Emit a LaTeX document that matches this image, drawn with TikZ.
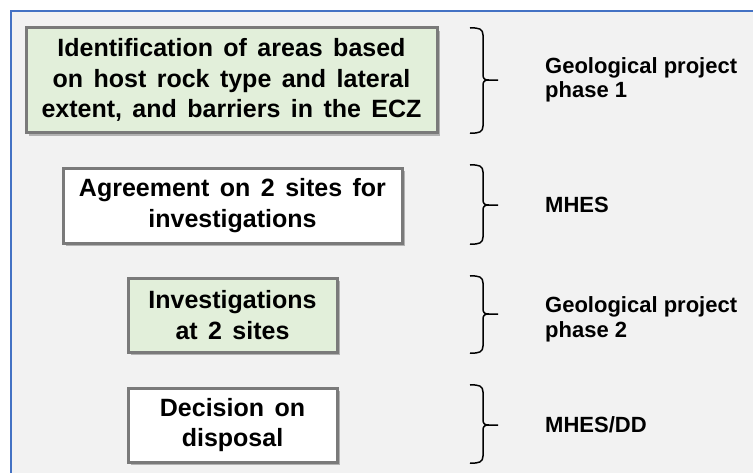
\documentclass[tikz,border=0pt]{standalone}
\usepackage{fontspec}
\setmainfont{Liberation Sans}
\newfontfamily\boxfont[WordSpace=1.5]{Liberation Sans}
\usetikzlibrary{shadows}
\definecolor{panelbg}{HTML}{F2F2F2}
\definecolor{frameblue}{HTML}{4472C4}
\definecolor{boxgreen}{HTML}{E2EFDA}
\definecolor{boxgrey}{HTML}{7A7A7A}
\tikzset{
  stepbox/.style={draw=boxgrey, line width=3pt, align=center, inner sep=0pt,
    font=\boxfont\bfseries\fontsize{25}{30.5}\selectfont,
    drop shadow={shadow xshift=3pt, shadow yshift=-3pt, opacity=0.45, fill=black!60}},
  greenbox/.style={stepbox, fill=boxgreen},
  whitebox/.style={stepbox, fill=white},
  sidelabel/.style={anchor=west, align=left, inner sep=0pt,
    font=\bfseries\fontsize{22}{24.5}\selectfont},
  bracestroke/.style={line width=1.5pt, black}
}
\newcommand{\mybrace}[3]{% top, middle, bottom
  \draw[bracestroke] (470,#1) .. controls (479,#1-0.5) and (483,#1+1) .. (483,#1+7)
    -- (483,#2-5) .. controls (483,#2-1) and (485,#2) .. (489,#2) -- (498,#2);
  \draw[bracestroke] (489,#2) .. controls (485,#2) and (483,#2+1) .. (483,#2+5)
    -- (483,#3-7) .. controls (483,#3-1) and (479,#3+0.5) .. (470,#3);
}
\begin{document}
\begin{tikzpicture}[x=1pt,y=-1pt]
\useasboundingbox (0,0) rectangle (753,472);
\fill[white] (0,0) rectangle (753,472);
\fill[panelbg] (11,11) rectangle (760,480);
\draw[frameblue, line width=1.5pt] (11,480) -- (11,11) -- (760,11);

\node[greenbox, minimum width=411pt, minimum height=105pt] (b1) at (231.5,80)
  {Identification of areas based\\on host rock type and lateral\\extent, and barriers in the ECZ};
\node[whitebox, minimum width=339pt, minimum height=75pt] (b2) at (232.5,205.5)
  {Agreement on 2 sites for\\investigations};
\node[greenbox, minimum width=209pt, minimum height=74pt] (b3) at (232.5,315)
  {Investigations\\at 2 sites};
\node[whitebox, minimum width=209pt, minimum height=74pt] (b4) at (232.5,425)
  {Decision on\\disposal};

\mybrace{28}{80}{133}
\mybrace{165}{205}{244}
\mybrace{276}{314}{353}
\mybrace{385}{425}{463}

\node[sidelabel] (l1) at (545,80) {Geological project\\phase 1};
\node[sidelabel] (l2) at (545,205) {MHES};
\node[sidelabel] (l3) at (545,319.5) {Geological project\\phase 2};
\node[sidelabel] (l4) at (545,425) {MHES/DD};
\end{tikzpicture}
\end{document}
